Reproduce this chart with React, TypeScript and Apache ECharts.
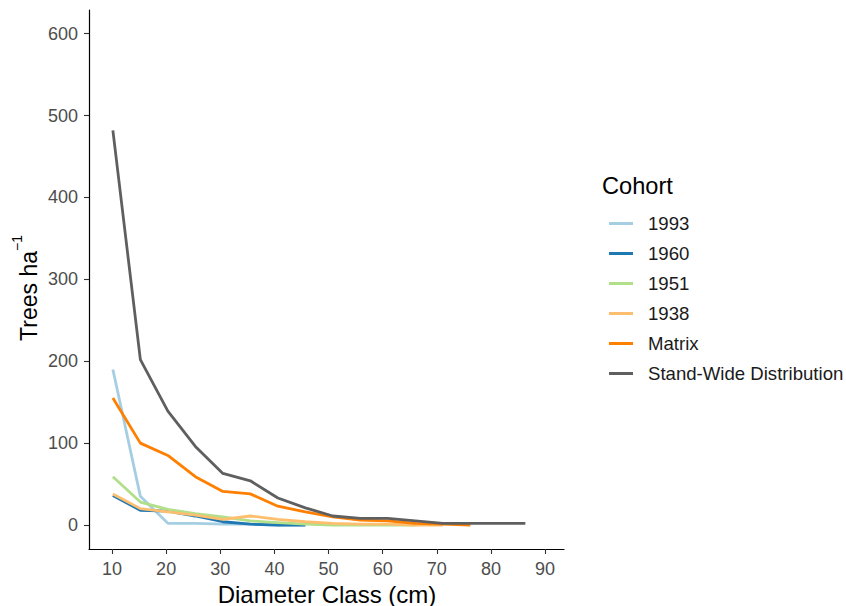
import React, { useEffect, useRef } from "react";
import * as echarts from "echarts";

// Diameter class midpoints (cm)
const diameterClass = [10.16, 15.24, 20.32, 25.4, 30.48, 35.56, 40.64, 45.72, 50.8, 55.88, 60.96, 66.04, 71.12, 76.2, 81.28, 86.36];
const cohortNames = ["1993", "1960", "1951", "1938", "Matrix", "Stand-Wide Distribution"];
const values1993 = [190, 35, 2, 2, 1, 1, 0, 0];
const values1960 = [36, 18, 17, 11, 4, 1, 0, 0];
const values1951 = [59, 28, 19, 14, 10, 5, 3, 1, 0, 0, 0, 0];
const values1938 = [38, 20, 16, 12, 7, 11, 7, 4, 2, 1, 1, 0, 0];
const valuesMatrix = [155, 100, 85, 59, 41, 38, 23, 16, 10, 6, 5, 2, 1, 0];
const valuesStand = [482, 202, 139, 96, 63, 54, 33, 21, 11, 8, 8, 5, 2, 2, 2, 2];
const yTicks = [0, 100, 200, 300, 400, 500, 600];
const xTicks = [10, 20, 30, 40, 50, 60, 70, 80, 90];
const colors = ["#a6cee3", "#1f78b4", "#b2df8a", "#fdbf6f", "#ff7f00", "#5f5f5f"];

const allValues = [values1993, values1960, values1951, values1938, valuesMatrix, valuesStand];

const FONT = "'Liberation Sans', Arial, sans-serif";

export default function App() {
  const ref = useRef<HTMLDivElement>(null);
  useEffect(() => {
    if (!ref.current) return;
    const chart = echarts.init(ref.current, null, { renderer: "svg" });
    const series = cohortNames.map((name, k) => ({
      name,
      type: "line",
      color: colors[k],
      showSymbol: false,
      symbol: "none",
      lineStyle: { width: 2.8, color: colors[k], join: "round" },
      data: allValues[k].map((v, i) => [diameterClass[i], v]),
      z: 2 + k,
    }));
    chart.setOption({
      animation: false,
      backgroundColor: "#ffffff",
      textStyle: { fontFamily: FONT },
      grid: { left: 89, top: 10, width: 475, height: 539, containLabel: false },
      xAxis: {
        type: "value",
        min: 5.75,
        max: 93.5,
        splitLine: { show: false },
        axisLine: { show: true, onZero: false, lineStyle: { color: "#000", width: 1.2 } },
        axisTick: { show: true, length: 5, customValues: xTicks, lineStyle: { color: "#333", width: 1.1 } },
        axisLabel: { customValues: xTicks, margin: 11, fontSize: 18, color: "#4d4d4d", fontFamily: FONT },
      },
      yAxis: {
        type: "value",
        min: -29.3,
        max: 629,
        splitLine: { show: false },
        axisLine: { show: true, onZero: false, lineStyle: { color: "#000", width: 1.2 } },
        axisTick: { show: true, length: 5, customValues: yTicks, lineStyle: { color: "#333", width: 1.1 } },
        axisLabel: { customValues: yTicks, margin: 11, fontSize: 18, color: "#4d4d4d", fontFamily: FONT },
      },
      legend: {
        orient: "vertical",
        left: 604,
        top: 209,
        icon: "rect",
        itemWidth: 24,
        itemHeight: 3,
        itemGap: 11,
        data: cohortNames,
        textStyle: { fontSize: 18.6, lineHeight: 19, color: "#1a1a1a", fontFamily: FONT, padding: [0, 0, 0, 10] },
      },
      graphic: [
        {
          type: "text",
          x: 327,
          y: 594,
          style: { text: "Diameter Class (cm)", fontSize: 24, fill: "#000", align: "center", verticalAlign: "middle", fontFamily: FONT },
        },
        {
          type: "text",
          x: 602,
          y: 186,
          style: { text: "Cohort", fontSize: 23.6, fill: "#000", align: "left", verticalAlign: "middle", fontFamily: FONT },
        },
        {
          type: "text",
          x: 25,
          y: 288,
          rotation: Math.PI / 2,
          style: {
            text: "{a|Trees ha}{s|\u22121}",
            align: "center",
            verticalAlign: "middle",
            fontFamily: FONT,
            rich: {
              a: { fontSize: 23, lineHeight: 30, fill: "#000", fontFamily: FONT, verticalAlign: "bottom" },
              s: { fontSize: 14, lineHeight: 30, fill: "#000", fontFamily: FONT, verticalAlign: "top" },
            },
          },
        },
      ],
      series,
    });
    return () => chart.dispose();
  }, []);
  return <div ref={ref} style={{ position: "fixed", left: 0, top: 0, width: 846, height: 606 }} />;
}
